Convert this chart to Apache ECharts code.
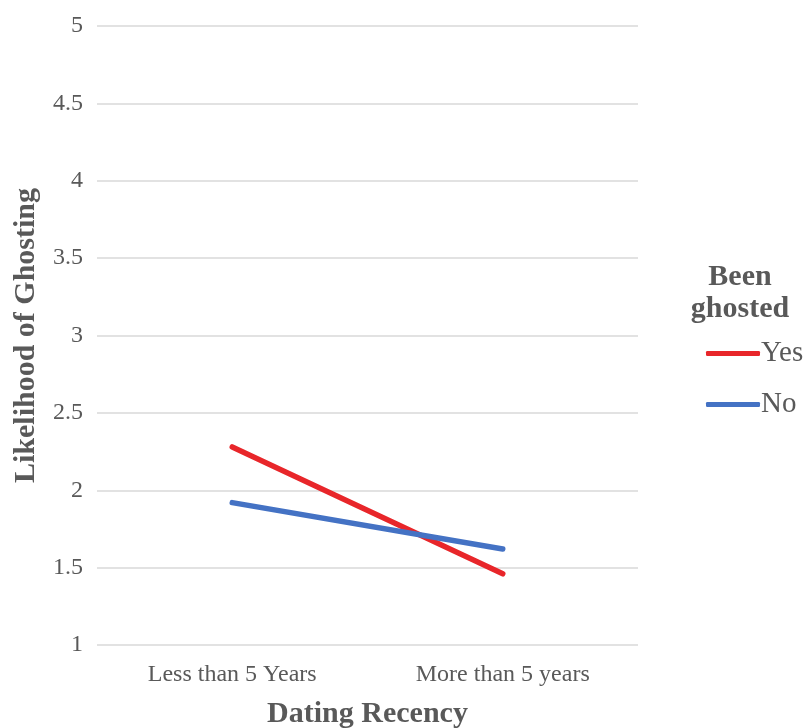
<!DOCTYPE html>
<html><head><meta charset="utf-8">
<script src="https://cdn.jsdelivr.net/npm/echarts@6/dist/echarts.min.js"></script>
<style>html,body{margin:0;padding:0;background:#fff}#c{width:809px;height:728px}</style>
</head><body><div id="c"></div>
<script>
const categories = ['Less than 5 Years', 'More than 5 years'];
const yesValues = [2.28, 1.46];
const noValues = [1.92, 1.62];
const seriesNames = ['Yes', 'No'];
const FONT = '"Liberation Serif", "Times New Roman", serif';
const chart = echarts.init(document.getElementById('c'));
chart.setOption({
  backgroundColor: '#fff',
  animation: false,
  textStyle: { fontFamily: FONT },
  grid: { left: 97, right: 171, top: 26, bottom: 83, outerBoundsMode: 'none', containLabel: false },
  graphic: [{
    type: 'text', x: 740, y: 261,
    style: { text: 'Been\nghosted', font: 'bold 30px ' + FONT, fill: '#595959', align: 'center', verticalAlign: 'top', textAlign: 'center', textVerticalAlign: 'top', lineHeight: 32 }
  }],
  legend: {
    orient: 'vertical', left: 701, top: 334,
    itemWidth: 54, itemHeight: 5, itemGap: 22,
    icon: 'roundRect',
    textStyle: { fontFamily: FONT, fontSize: 29, color: '#595959', padding: [0, 0, 0, -4] },
    data: seriesNames
  },
  xAxis: {
    type: 'category', data: categories,
    axisLine: { show: false }, axisTick: { show: false },
    axisLabel: { fontFamily: FONT, fontSize: 24, color: '#595959', margin: 18 },
    name: 'Dating Recency', nameLocation: 'middle', nameGap: 54,
    nameTextStyle: { fontFamily: FONT, fontSize: 30, fontWeight: 'bold', color: '#595959' }
  },
  yAxis: {
    type: 'value', min: 1, max: 5, interval: 0.5,
    axisLine: { show: false }, axisTick: { show: false },
    axisLabel: { fontFamily: FONT, fontSize: 24, color: '#595959', margin: 14 },
    splitLine: { lineStyle: { color: '#d9d9d9', width: 1.5 } },
    name: 'Likelihood of Ghosting', nameLocation: 'middle', nameGap: 56,
    nameTextStyle: { fontFamily: FONT, fontSize: 30, fontWeight: 'bold', color: '#595959' }
  },
  series: [
    { name: seriesNames[0], type: 'line', data: yesValues, symbol: 'none',
      lineStyle: { color: '#E8262A', width: 5.5, cap: 'round' }, itemStyle: { color: '#E8262A' } },
    { name: seriesNames[1], type: 'line', data: noValues, symbol: 'none',
      lineStyle: { color: '#4472C4', width: 5.5, cap: 'round' }, itemStyle: { color: '#4472C4' } }
  ]
});
</script></body></html>
